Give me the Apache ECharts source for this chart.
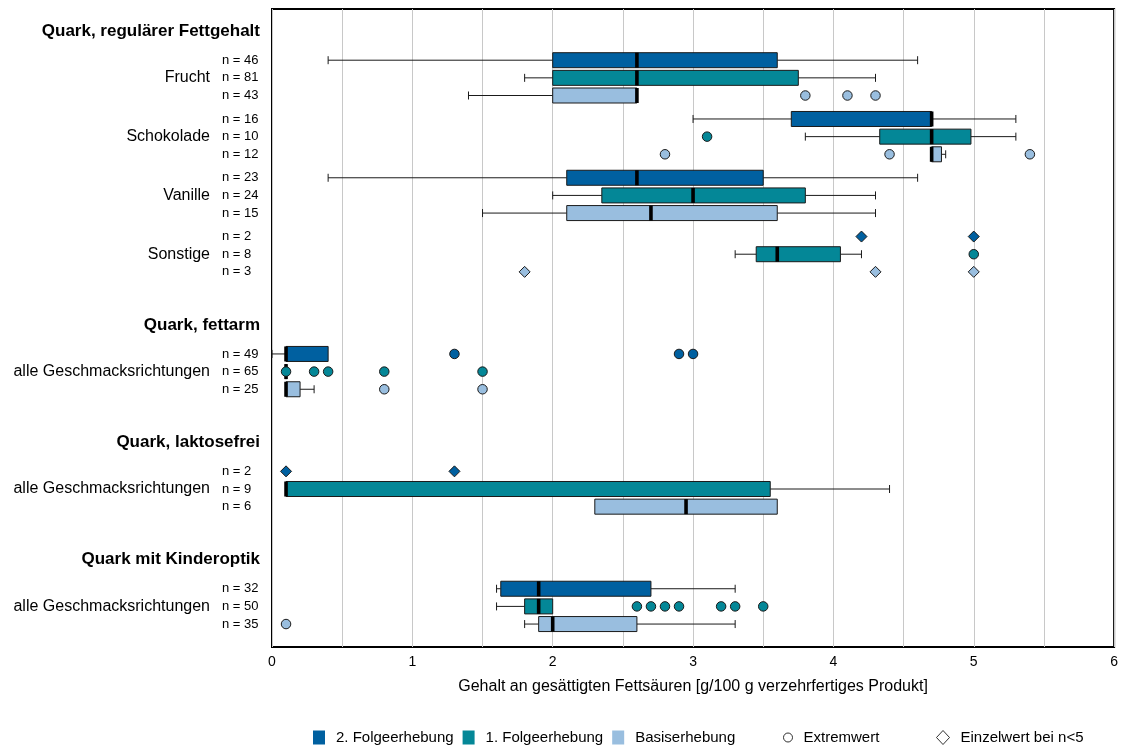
<!DOCTYPE html>
<html>
<head>
<meta charset="utf-8">
<script src="https://cdn.jsdelivr.net/npm/echarts@6/dist/echarts.min.js"></script>
<style>
  html, body { margin: 0; padding: 0; background: #fff; }
  #chart { width: 1121px; height: 745px; }
</style>
</head>
<body>
<div id="chart"></div>
<script>
// ---- Data ---------------------------------------------------------------
const groupTitles = ['Quark, regulärer Fettgehalt', 'Quark, fettarm', 'Quark, laktosefrei', 'Quark mit Kinderoptik'];
// flavour blocks and the product group each belongs to
const blockNames = ['Frucht', 'Schokolade', 'Vanille', 'Sonstige',
  'alle Geschmacksrichtungen', 'alle Geschmacksrichtungen', 'alle Geschmacksrichtungen'];
const blockGroup = [0, 0, 0, 0, 1, 2, 3];
const surveys = ['2. Folgeerhebung', '1. Folgeerhebung', 'Basiserhebung'];
const surveyColors = ['#0060a0', '#048797', '#99bedf'];

// sample sizes per block: [2. Folgeerhebung, 1. Folgeerhebung, Basiserhebung]
const sampleSizes = [
  [46, 81, 43], [16, 10, 12], [23, 24, 15], [2, 8, 3],
  [49, 65, 25], [2, 9, 6], [32, 50, 35]
];

// box statistics per block: [min, Q1, median, Q3, max]; null = no box (n<5)
const boxes2 = [
  [0.4, 2.0, 2.6, 3.6, 4.6], [3.0, 3.7, 4.7, 4.7, 5.3], [0.4, 2.1, 2.6, 3.5, 4.6], null,
  [0.0, 0.1, 0.1, 0.4, 0.4], null, [1.6, 1.63, 1.9, 2.7, 3.3]
];
const boxes1 = [
  [1.8, 2.0, 2.6, 3.75, 4.3], [3.8, 4.33, 4.7, 4.98, 5.3], [2.0, 2.35, 3.0, 3.8, 4.3], [3.3, 3.45, 3.6, 4.05, 4.2],
  [0.1, 0.1, 0.1, 0.1, 0.1], [0.1, 0.1, 0.1, 3.55, 4.4], [1.6, 1.8, 1.9, 2.0, 2.0]
];
const boxesB = [
  [1.4, 2.0, 2.6, 2.6, 2.6], [4.7, 4.7, 4.7, 4.77, 4.8], [1.5, 2.1, 2.7, 3.6, 4.3], null,
  [0.1, 0.1, 0.1, 0.2, 0.3], [2.3, 2.3, 2.95, 3.6, 3.6], [1.8, 1.9, 2.0, 2.6, 3.3]
];

// extreme values: [block, value]
const extremes2 = [[4, 1.3], [4, 2.9], [4, 3.0]];
const extremes1 = [[1, 3.1], [3, 5.0], [4, 0.1], [4, 0.3], [4, 0.4], [4, 0.8], [4, 1.5],
  [6, 2.6], [6, 2.7], [6, 2.8], [6, 2.9], [6, 3.2], [6, 3.3], [6, 3.5]];
const extremesB = [[0, 3.8], [0, 4.1], [0, 4.3], [1, 2.8], [1, 4.4], [1, 5.4], [4, 0.8], [4, 1.5], [6, 0.1]];

// single values where n<5: [block, value]
const singles2 = [[3, 4.2], [3, 5.0], [5, 0.1], [5, 1.3]];
const singles1 = [];
const singlesB = [[3, 1.8], [3, 4.3], [3, 5.0]];

const xTicks = [0, 1, 2, 3, 4, 5, 6];
const xTitle = 'Gehalt an gesättigten Fettsäuren [g/100 g verzehrfertiges Produkt]';
const legendExtreme = 'Extremwert';
const legendSingle = 'Einzelwert bei n<5';

// ---- Vertical layout (in row units) -------------------------------------
const HEAD_LEAD = 1.25, HEAD_TO_ROW = 1.65, BLOCK_GAP = 1.33, GROUP_GAP = 3.0, TAIL = 1.3;
const headerY = [];
const rowY = [];   // rowY[block][survey]
(function () {
  let lastRow = null, prevGroup = -1;
  blockNames.forEach((_, b) => {
    const g = blockGroup[b];
    let first;
    if (g !== prevGroup) {
      const h = lastRow === null ? HEAD_LEAD : lastRow + GROUP_GAP;
      headerY[g] = h;
      first = h + HEAD_TO_ROW;
      prevGroup = g;
    } else {
      first = lastRow + BLOCK_GAP;
    }
    rowY[b] = [first, first + 1, first + 2];
    lastRow = first + 2;
  });
  rowY.total = lastRow + TAIL;
})();

const FONT = "'Liberation Sans', Arial, sans-serif";
const allBoxes = [boxes2, boxes1, boxesB];
const allExtremes = [extremes2, extremes1, extremesB];
const allSingles = [singles2, singles1, singlesB];

function renderBox(params, api) {
  const y = api.value(0);
  const p = [1, 2, 3, 4, 5].map(i => api.coord([api.value(i), y]));
  const cy = p[2][1];
  const h = api.size([0, 0.85])[1];
  const capH = 8;
  const color = api.visual('color');
  const lineStyle = { stroke: '#1a1a1a', lineWidth: 1 };
  const children = [];
  if (p[0][0] < p[1][0] - 0.5) {
    children.push({ type: 'line', shape: { x1: p[0][0], y1: cy, x2: p[1][0], y2: cy }, style: lineStyle });
    children.push({ type: 'line', shape: { x1: p[0][0], y1: cy - capH / 2, x2: p[0][0], y2: cy + capH / 2 }, style: lineStyle });
  }
  if (p[4][0] > p[3][0] + 0.5) {
    children.push({ type: 'line', shape: { x1: p[3][0], y1: cy, x2: p[4][0], y2: cy }, style: lineStyle });
    children.push({ type: 'line', shape: { x1: p[4][0], y1: cy - capH / 2, x2: p[4][0], y2: cy + capH / 2 }, style: lineStyle });
  }
  children.push({
    type: 'rect',
    shape: { x: p[1][0], y: cy - h / 2, width: Math.max(p[3][0] - p[1][0], 0), height: h },
    style: { fill: color, stroke: '#1a1a1a', lineWidth: 1 }
  });
  children.push({
    type: 'rect',
    shape: { x: p[2][0] - 1.8, y: cy - h / 2, width: 3.6, height: h },
    style: { fill: '#000' }
  });
  return { type: 'group', children };
}

// left-hand labels: group titles, flavour names and sample sizes
const labelItems = [];
groupTitles.forEach((t, g) => labelItems.push({ value: [0, headerY[g]], kind: 'head', text: t }));
blockNames.forEach((name, b) => {
  labelItems.push({ value: [0, rowY[b][1]], kind: 'name', text: name });
  sampleSizes[b].forEach((n, s) => labelItems.push({ value: [0, rowY[b][s]], kind: 'n', text: 'n = ' + n }));
});

function renderLabel(params, api) {
  const it = labelItems[params.dataIndex];
  const p = api.coord([0, api.value(1)]);
  let x, font, align;
  if (it.kind === 'head') { x = p[0] - 12; font = 'bold 17px ' + FONT; align = 'right'; }
  else if (it.kind === 'name') { x = p[0] - 62; font = '16px ' + FONT; align = 'right'; }
  else { x = p[0] - 50; font = '13px ' + FONT; align = 'left'; }
  return {
    type: 'text',
    style: { x, y: p[1], text: it.text, font, fill: '#000', align, verticalAlign: 'middle' }
  };
}

const series = [];
surveys.forEach((name, s) => {
  const data = [];
  allBoxes[s].forEach((st, b) => { if (st) data.push([rowY[b][s]].concat(st)); });
  series.push({
    name, type: 'custom', renderItem: renderBox, data, z: 2,
    itemStyle: { color: surveyColors[s] },
    encode: { x: [1, 2, 3, 4, 5], y: 0 }
  });
  series.push({
    name, type: 'scatter', symbol: 'circle', symbolSize: 9.5, z: 4,
    itemStyle: { color: surveyColors[s], borderColor: '#1a1a1a', borderWidth: 1, opacity: 1 },
    data: allExtremes[s].map(([b, v]) => [v, rowY[b][s]])
  });
  series.push({
    name, type: 'scatter', symbol: 'diamond', symbolSize: 11, z: 4,
    itemStyle: { color: surveyColors[s], borderColor: '#1a1a1a', borderWidth: 1, opacity: 1 },
    data: allSingles[s].map(([b, v]) => [v, rowY[b][s]])
  });
});
// legend-only entries for the marker types
series.push({ name: legendExtreme, type: 'scatter', data: [], itemStyle: { color: '#fff', borderColor: '#000', borderWidth: 1 } });
series.push({ name: legendSingle, type: 'scatter', data: [], itemStyle: { color: '#fff', borderColor: '#000', borderWidth: 1 } });
series.push({
  name: 'labels', type: 'custom', renderItem: renderLabel, clip: false, silent: true,
  data: labelItems.map(it => it.value), encode: { x: 0, y: 1 }, z: 5
});

const legendText = { fontFamily: FONT, fontSize: 15, color: '#000', padding: [0, 0, 0, 6] };
const option = {
  backgroundColor: '#fff',
  animation: false,
  grid: { left: 272, right: 4, top: 9, bottom: 98, show: true, borderColor: '#000', borderWidth: 2, backgroundColor: 'transparent' },
  xAxis: {
    type: 'value', min: xTicks[0], max: xTicks[xTicks.length - 1], interval: 0.5,
    axisLine: { show: false }, axisTick: { show: false },
    splitLine: { show: true, lineStyle: { color: '#c8c8c8', width: 1 } },
    axisLabel: {
      interval: 0, margin: 8, fontFamily: FONT, fontSize: 14, color: '#000',
      formatter: v => (xTicks.indexOf(v) >= 0 ? String(v) : '')
    },
    name: xTitle, nameLocation: 'middle', nameGap: 32,
    nameTextStyle: { fontFamily: FONT, fontSize: 16, color: '#000' }
  },
  yAxis: { type: 'value', inverse: true, min: 0, max: rowY.total, show: false, splitLine: { show: false } },
  legend: [
    {
      left: 308, top: 725, itemWidth: 12, itemHeight: 14, itemGap: 9, selectedMode: false,
      textStyle: legendText,
      data: surveys.map((n, s) => ({ name: n, icon: 'rect', itemStyle: { color: surveyColors[s], borderWidth: 0 } }))
    },
    {
      left: 778, top: 725, itemWidth: 9, itemHeight: 14, selectedMode: false, textStyle: legendText,
      data: [{ name: legendExtreme, icon: 'circle', itemStyle: { color: '#fff', borderColor: '#000', borderWidth: 1 } }]
    },
    {
      left: 931, top: 725, itemWidth: 13, itemHeight: 14, selectedMode: false, textStyle: legendText,
      data: [{ name: legendSingle, icon: 'diamond', itemStyle: { color: '#fff', borderColor: '#000', borderWidth: 1 } }]
    }
  ],
  series
};

const chart = echarts.init(document.getElementById('chart'), null, { renderer: 'canvas' });
chart.setOption(option);
</script>
</body>
</html>
